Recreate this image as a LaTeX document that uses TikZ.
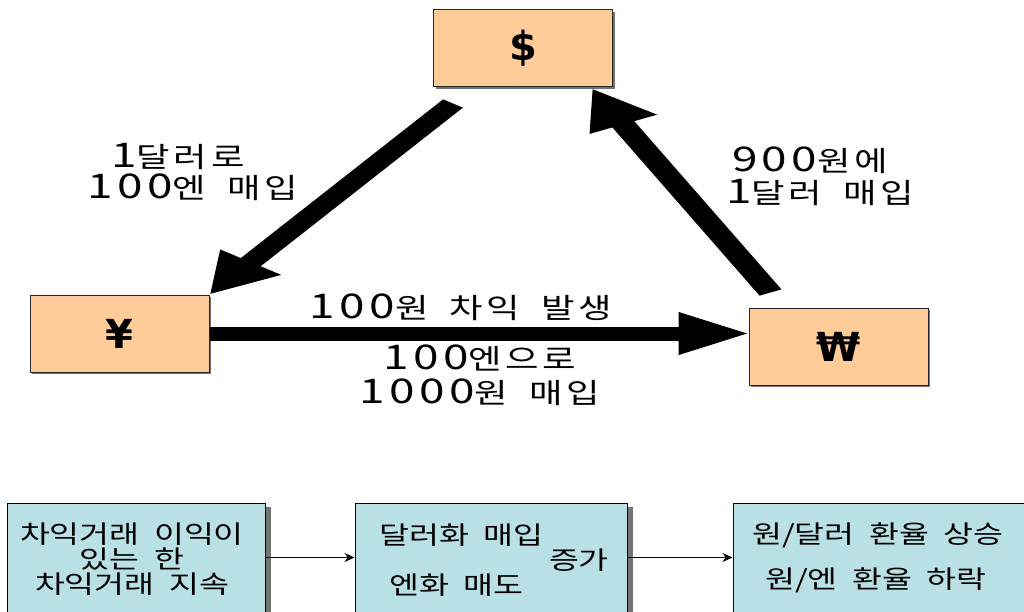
\documentclass[tikz,border=0pt]{standalone}
\usepackage{fontspec}
\setmainfont{Noto Sans CJK KR}
\newfontfamily\symfont{DejaVu Sans}
\newfontfamily\korT[FakeStretch=1.3, LetterSpace=13, WordSpace=1.8]{Noto Sans CJK KR}
\newfontfamily\dg[FakeStretch=1.35, LetterSpace=13]{Noto Sans CJK KR}
\newfontfamily\korB[FakeStretch=1.3, WordSpace=2]{Noto Sans CJK KR}
\newcommand{\dgt}[1]{{\dg\fontsize{34}{33}\selectfont #1}}
\usetikzlibrary{arrows.meta,shadows,calc}
\definecolor{topfill}{HTML}{FFCC99}
\definecolor{botfill}{HTML}{B9E0E4}
\tikzset{
  topbox/.style={draw=black!85, line width=1pt, fill=topfill, minimum width=179pt, minimum height=77pt,
    inner sep=0pt, font=\symfont\bfseries\fontsize{40}{40}\selectfont,
    drop shadow={shadow xshift=2pt, shadow yshift=-2pt, fill=black!55, opacity=1}},
  botbox/.style={draw=black, line width=1pt, fill=botfill, inner sep=0pt, minimum height=130pt,
    drop shadow={shadow xshift=6pt, shadow yshift=-4pt, fill=black!55, opacity=1}},
  bigarrow/.style={line width=14pt, line cap=butt, -{Triangle[length=40pt,width=40pt]}},
  smallarrow/.style={line width=1.8pt, -{Stealth[length=10pt,width=9pt]}},
  biglabel/.style={inner sep=0pt, font=\korT\fontsize{28}{33}\selectfont},
  botlabel/.style={inner sep=0pt, align=center, font=\korB\fontsize{25}{25}\selectfont},
}
\begin{document}
\begin{tikzpicture}[x=1pt,y=-1pt]
\useasboundingbox (0,0) rectangle (1024,612);
\clip (0,0) rectangle (1024,612);
% top boxes
\node[topbox] (usd) at (523,48.5) {\$};
\node[topbox] (yen) at (119.5,333.5) {¥};
\node[topbox] (won) at (838.5,346.5) {₩};
% arrow end points (the picture is stretched horizontally by 1.75)
\coordinate (p1) at ($(usd.south)+(-70,16)$);
\coordinate (p2) at (yen.north east);
\coordinate (p3) at ($(won.north)+(-68,-15)$);
\coordinate (p4) at ($(usd.south east)+(-21,1)$);
\coordinate (p5) at (yen.east);
\coordinate (p6) at (yen.east -| won.west);
\foreach \i in {1,...,6}{
  \coordinate (h\i) at ($0.571429*(p\i)$);
  \coordinate (q\i) at (h\i |- p\i);
}
\begin{scope}[transform canvas={xscale=1.75}]
\draw[bigarrow] (q1) -- (q2);
\draw[bigarrow] (q3) -- (q4);
\draw[bigarrow] (q5) -- (q6);
\end{scope}
% labels
\node[biglabel] (l1a) at (178,156) {\dgt{1}달러로};
\node[biglabel] (l1b) at (193,187) {\dgt{100}엔 매입};
\node[biglabel] (l2a) at (810,160) {\dgt{900}원에};
\node[biglabel] (l2b) at (820,192) {\dgt{1}달러 매입};
\node[biglabel] (l3) at (461,307) {\dgt{100}원 차익 발생};
\node[biglabel] (l4a) at (480,358) {\dgt{100}엔으로};
\node[biglabel] (l4b) at (480,392) {\dgt{1000}원 매입};
% bottom boxes
\node[botbox, minimum width=258pt] (b1) at (136,568) {};
\node[botbox, minimum width=272pt] (b2) at (491,568) {};
\node[botbox, minimum width=302pt] (b3) at (884,568) {};
\coordinate (a1) at ($(b1.north east)+(0,55)$);
\coordinate (a2) at ($(b2.north east)+(0,55)$);
\draw[smallarrow] (a1) -- (a1 -| b2.west);
\draw[smallarrow] (a2) -- (a2 -| b3.west);
% bottom texts
\node[botlabel] (t1) at (132,559) {차익거래 이익이\\있는 한\\차익거래 지속};
\node[botlabel, anchor=west] (t2a) at (379,535) {달러화 매입};
\node[botlabel, anchor=east] (t2b) at (609,560) {증가};
\node[botlabel, anchor=west] (t2c) at (389,585) {엔화 매도};
\node[botlabel, anchor=west] (t3a) at (752,535) {원/달러 환율 상승};
\node[botlabel, anchor=west] (t3b) at (765,580) {원/엔 환율 하락};
\end{tikzpicture}
\end{document}
